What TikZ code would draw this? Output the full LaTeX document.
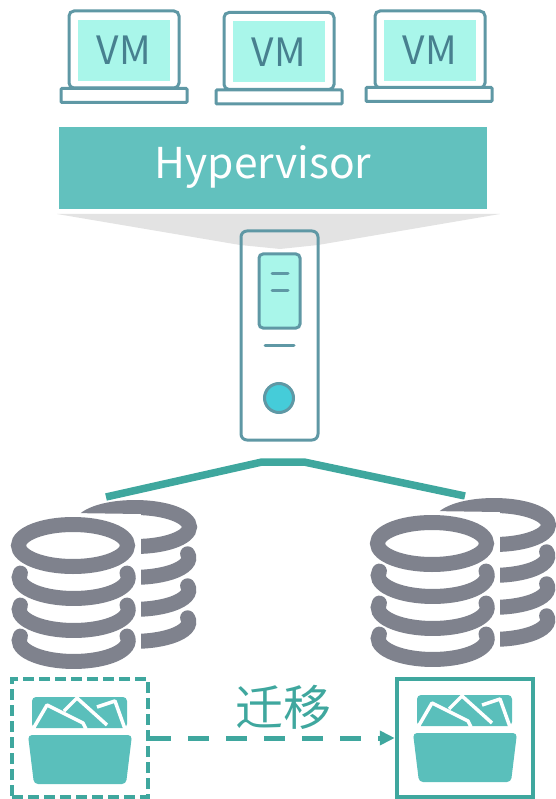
\documentclass[tikz,border=0pt]{standalone}
\usepackage{fontspec}
\newfontfamily\cjkf{Noto Sans CJK SC}
\usetikzlibrary{arrows.meta}
\definecolor{tealbar}{HTML}{62C1BE}
\definecolor{tealline}{HTML}{3FA79E}
\definecolor{lapline}{HTML}{5F98A5}
\definecolor{lapfill}{HTML}{A9F6EA}
\definecolor{vmtext}{HTML}{47808F}
\definecolor{diskgray}{HTML}{7F828D}
\definecolor{foldercol}{HTML}{5ABFBB}
\definecolor{conegray}{HTML}{E3E3E3}
\definecolor{dotfill}{HTML}{45CCD9}
\tikzset{
  lapscreen/.style={draw=lapline,line width=3pt,fill=white,rounded corners=5pt,minimum width=110pt,minimum height=77pt,inner sep=0pt,outer sep=0pt},
  lapinner/.style={fill=lapfill,minimum width=92pt,minimum height=61pt,inner sep=0pt,text=vmtext,font=\cjkf\fontsize{39}{39}\selectfont},
  lapbase/.style={draw=lapline,line width=3pt,fill=white,rounded corners=1pt,minimum width=126pt,minimum height=14pt,inner sep=0pt,outer sep=0pt},
  disk/.style={draw=diskgray,line width=15pt},
  diskarc/.style={draw=diskgray,line width=15pt,line cap=round},
  diskhalo/.style={draw=white,line width=18pt,line cap=round},
  paper/.style={draw=white,line width=3.5pt,line join=round},
  foldbox/.style={draw=tealline,line width=4.5pt,minimum width=136pt,minimum height=118pt,inner sep=0pt,outer sep=2.25pt}
}
\newcommand{\diskstack}[2]{%
\begin{scope}[shift={(#1,#2)}]
  \begin{scope}
    \clip (70,490)--(205,490)--(205,680)--(141,680)--(141,514)--(70,513)--cycle;
    \foreach \cy in {622,590,558}{
      \draw[diskhalo] (187.6,\cy-4.2) arc [start angle=12,end angle=-100,x radius=54.5,y radius=-19.5];
      \draw[diskarc] (187.6,\cy-4.2) arc [start angle=12,end angle=-100,x radius=54.5,y radius=-19.5];
    }
    \draw[draw=white,line width=18pt] (135,527) ellipse [x radius=54.5,y radius=19.5];
    \draw[disk] (135,527) ellipse [x radius=54.5,y radius=19.5];
  \end{scope}
  \foreach \cy in {640.5,609.5,577.5}{
    \draw[diskhalo] (20.4,\cy-4.4) arc [start angle=168,end angle=372,x radius=54.5,y radius=-21];
    \draw[diskarc] (20.4,\cy-4.4) arc [start angle=168,end angle=372,x radius=54.5,y radius=-21];
  }
  \draw[draw=white,line width=18pt] (73,545.5) ellipse [x radius=54.5,y radius=21];
  \draw[disk] (73,545.5) ellipse [x radius=54.5,y radius=21];
\end{scope}}
\newcommand{\foldericon}[2]{%
\begin{scope}[shift={(#1,#2)}]
  \fill[foldercol,rounded corners=4pt] (32,728)--(32,697)--(127,697)--(127,728)--cycle;
  \draw[paper] (33,729)--(47,705)--(83,723)--(86,729);
  \draw[paper] (64,711)--(77,698)--(107,725);
  \draw[paper] (97,707)--(115,701)--(125,729);
  \fill[foldercol,rounded corners=4pt] (28,735)--(132,735)--(126,784)--(34,784)--cycle;
\end{scope}}
\begin{document}
\begin{tikzpicture}[x=1pt,y=-1pt]
\useasboundingbox (0,0) rectangle (555,799);
% gray projection
\fill[conegray] (57,214)--(500,214)--(318,245)--(280,249)--(240,245)--cycle;
% laptops
\node[lapscreen] (s1) at (124,49.5) {};
\node[lapinner] (v1) at (124,50.5) {VM};
\node[lapbase] (b1) at (124,95.5) {};
\node[lapscreen] (s2) at (279,51) {};
\node[lapinner] (v2) at (279,52) {VM};
\node[lapbase] (b2) at (279,97) {};
\node[lapscreen] (s3) at (430,49.5) {};
\node[lapinner] (v3) at (430,50.5) {VM};
\node[lapbase] (b3) at (429,94.5) {};
% hypervisor
\node[fill=tealbar,minimum width=428pt,minimum height=82pt,inner sep=0pt] (hv) at (273,168) {};
\node[text=white,inner sep=0pt,font=\cjkf\fontsize{42.5}{42.5}\selectfont] (hvt) at (263,167) {Hypervisor};
% server
\node[draw=lapline,line width=3pt,rounded corners=6pt,minimum width=77pt,minimum height=209pt,inner sep=0pt] (srv) at (279.5,335.5) {};
\node[draw=lapline,line width=3pt,fill=lapfill,rounded corners=4pt,minimum width=41pt,minimum height=74pt,inner sep=0pt] (scr) at (279.5,291) {};
\coordinate (l1a) at (272,273); \coordinate (l1b) at (288,273);
\coordinate (l2a) at (272,290); \coordinate (l2b) at (288,290);
\coordinate (l3a) at (265,345); \coordinate (l3b) at (294,345);
\draw[lapline,line width=3pt,line cap=round] (l1a)--(l1b) (l2a)--(l2b) (l3a)--(l3b);
\node[circle,draw=lapline,line width=3pt,fill=dotfill,minimum size=29pt,inner sep=0pt] (dot) at (279,398) {};
% link
\coordinate (la) at (106,497); \coordinate (lb) at (262,462);
\coordinate (lc) at (304,462); \coordinate (ld) at (465,496);
\draw[tealline,line width=7.5pt] (la)--(lb)--(lc)--(ld);
% disks
\diskstack{0}{0}
\diskstack{359}{-2}
% folder boxes
\node[foldbox,dashed,dash pattern=on 11pt off 5pt] (fa) at (80,738) {};
\node[foldbox] (fb) at (465,738) {};
\foldericon{0}{0}
\foldericon{385}{-2}
% migrate
\draw[tealline,line width=5pt,dash pattern=on 21pt off 17pt,-{Triangle[length=15pt,width=14pt]}] (fa.east)--(fb.west);
\node[text=tealline,inner sep=0pt,font=\cjkf\fontsize{48}{48}\selectfont] (mig) at (283,707) {迁移};
\end{tikzpicture}
\end{document}
